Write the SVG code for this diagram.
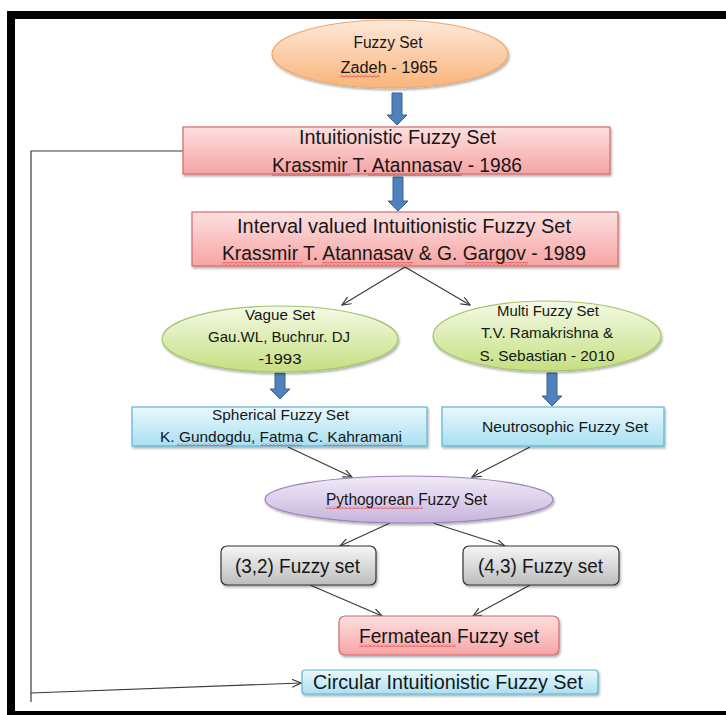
<svg xmlns="http://www.w3.org/2000/svg" width="726" height="715" viewBox="0 0 726 715">
<style>
text{font-family:"Liberation Sans",Arial,sans-serif;fill:#161616;text-anchor:middle}
.s14{font-size:15px}.s15{font-size:16px}.s18{font-size:19.5px}.s19{font-size:20.5px}
.con{fill:none;stroke:#3a3a3a;stroke-width:1.2}
.blk{fill:#4f81bd;stroke:#3a639a;stroke-width:1}
.sq{fill:url(#squig)}
</style>
<defs>
<linearGradient id="gOr" x1="0" y1="0" x2="0" y2="1"><stop offset="0" stop-color="#fde9d9"/><stop offset="1" stop-color="#f9b47a"/></linearGradient>
<linearGradient id="gPk" x1="0" y1="0" x2="0" y2="1"><stop offset="0" stop-color="#fde0e0"/><stop offset="1" stop-color="#f7a4a4"/></linearGradient>
<linearGradient id="gGr" x1="0" y1="0" x2="0" y2="1"><stop offset="0" stop-color="#f4fae6"/><stop offset="1" stop-color="#c5df80"/></linearGradient>
<linearGradient id="gBl" x1="0" y1="0" x2="0" y2="1"><stop offset="0" stop-color="#eaf8fd"/><stop offset="1" stop-color="#a9e0f2"/></linearGradient>
<linearGradient id="gPu" x1="0" y1="0" x2="0" y2="1"><stop offset="0" stop-color="#f1ebf7"/><stop offset="1" stop-color="#c7b4de"/></linearGradient>
<linearGradient id="gGy" x1="0" y1="0" x2="0" y2="1"><stop offset="0" stop-color="#f6f6f6"/><stop offset="1" stop-color="#bdbdbd"/></linearGradient>
<filter id="sh" x="-10%" y="-20%" width="120%" height="150%"><feDropShadow dx="1.2" dy="2" stdDeviation="1.3" flood-color="#000" flood-opacity="0.3"/></filter>
<pattern id="squig" width="4" height="3" patternUnits="userSpaceOnUse"><path d="M0,2.5 L2,0.5 L4,2.5" fill="none" stroke="#e02020" stroke-width="0.8"/></pattern>
<marker id="arr" markerWidth="10" markerHeight="9" refX="9" refY="4" orient="auto" markerUnits="userSpaceOnUse"><path d="M0,0 L9,4 L0,8" fill="none" stroke="#3a3a3a" stroke-width="1.2"/></marker>
</defs>
<rect width="726" height="715" fill="#fff"/>
<rect x="11" y="15" width="800" height="700" fill="none" stroke="#000" stroke-width="8"/>

<g id="connectors">
<path class="blk" d="M392,93 H402 V115 H407 L397,125 L387,115 H392 Z"/>
<path class="blk" d="M393,177 H403 V201 H408 L398,211 L388,201 H393 Z"/>
<path class="blk" d="M275,373 H285 V389 H290 L280,399 L270,389 H275 Z"/>
<path class="blk" d="M547,373 H557 V396 H562 L552,406 L542,396 H547 Z"/>
<path class="con" d="M405,267 L342,305" marker-end="url(#arr)"/>
<path class="con" d="M405,267 L470,305" marker-end="url(#arr)"/>
<path class="con" d="M288,447 L352,477" marker-end="url(#arr)"/>
<path class="con" d="M530,447 L472,477" marker-end="url(#arr)"/>
<path class="con" d="M390,523 L340,546" marker-end="url(#arr)"/>
<path class="con" d="M433,523 L505,546" marker-end="url(#arr)"/>
<path class="con" d="M310,585 L382,616" marker-end="url(#arr)"/>
<path class="con" d="M530,585 L473,616" marker-end="url(#arr)"/>
<path class="con" d="M183,151 H31 V702"/>
<path class="con" d="M31,693 L301,683" marker-end="url(#arr)"/>
</g>

<g id="fuzzy-set">
<ellipse cx="390" cy="54" rx="118" ry="34" fill="url(#gOr)" stroke="#f2a868" stroke-width="1.2" filter="url(#sh)"/>
<text class="s15" x="388" y="48" textLength="69" lengthAdjust="spacingAndGlyphs">Fuzzy Set</text>
<text class="s15" x="389" y="73" textLength="97" lengthAdjust="spacingAndGlyphs">Zadeh - 1965</text>
<rect class="sq" x="340" y="75" width="40" height="3"/>
</g>

<g id="intuitionistic">
<rect x="183" y="127" width="427" height="47" fill="url(#gPk)" stroke="#d26a6a" stroke-width="1.2" filter="url(#sh)"/>
<text class="s19" x="397.5" y="144" textLength="197" lengthAdjust="spacingAndGlyphs">Intuitionistic Fuzzy Set</text>
<text class="s19" x="397" y="172" textLength="250" lengthAdjust="spacingAndGlyphs">Krassmir T. Atannasav - 1986</text>
<rect class="sq" x="272" y="173" width="78" height="3"/>
<rect class="sq" x="368" y="173" width="94" height="3"/>
</g>

<g id="interval-valued">
<rect x="192" y="212" width="426" height="54" fill="url(#gPk)" stroke="#d26a6a" stroke-width="1.2" filter="url(#sh)"/>
<text class="s19" x="404" y="233" textLength="334" lengthAdjust="spacingAndGlyphs">Interval valued Intuitionistic Fuzzy Set</text>
<text class="s19" x="404" y="260" textLength="364" lengthAdjust="spacingAndGlyphs">Krassmir T. Atannasav &amp; G. Gargov - 1989</text>
<rect class="sq" x="222" y="262" width="80" height="3"/>
<rect class="sq" x="322" y="262" width="91" height="3"/>
<rect class="sq" x="465" y="262" width="63" height="3"/>
</g>

<g id="vague-set">
<ellipse cx="280" cy="339" rx="118" ry="33" fill="url(#gGr)" stroke="#a6c46a" stroke-width="1.2" filter="url(#sh)"/>
<text class="s14" x="280" y="320" textLength="70" lengthAdjust="spacingAndGlyphs">Vague Set</text>
<text class="s14" x="279" y="342" textLength="142" lengthAdjust="spacingAndGlyphs">Gau.WL, Buchrur. DJ</text>
<text class="s14" x="280" y="364" textLength="43" lengthAdjust="spacingAndGlyphs">-1993</text>
</g>

<g id="multi-fuzzy-set">
<ellipse cx="547" cy="336" rx="114" ry="35" fill="url(#gGr)" stroke="#a6c46a" stroke-width="1.2" filter="url(#sh)"/>
<text class="s14" x="548" y="316" textLength="102" lengthAdjust="spacingAndGlyphs">Multi Fuzzy Set</text>
<text class="s14" x="547" y="338" textLength="132" lengthAdjust="spacingAndGlyphs">T.V. Ramakrishna &amp;</text>
<text class="s14" x="547" y="361" textLength="135" lengthAdjust="spacingAndGlyphs">S. Sebastian - 2010</text>
</g>

<g id="spherical">
<rect x="132" y="407" width="295" height="39" fill="url(#gBl)" stroke="#5ab4d0" stroke-width="1.2" filter="url(#sh)"/>
<text class="s14" x="280.5" y="420" textLength="137" lengthAdjust="spacingAndGlyphs">Spherical Fuzzy Set</text>
<text class="s14" x="281" y="442" textLength="242" lengthAdjust="spacingAndGlyphs">K. Gundogdu, Fatma C. Kahramani</text>
<rect class="sq" x="177" y="443" width="52" height="3"/>
<rect class="sq" x="261" y="443" width="41" height="3"/>
<rect class="sq" x="323" y="443" width="79" height="3"/>
</g>

<g id="neutrosophic">
<rect x="442" y="407" width="222" height="39" fill="url(#gBl)" stroke="#5ab4d0" stroke-width="1.2" filter="url(#sh)"/>
<text class="s14" x="565" y="432" textLength="166" lengthAdjust="spacingAndGlyphs">Neutrosophic Fuzzy Set</text>
</g>

<g id="pythogorean">
<ellipse cx="409" cy="499.5" rx="144" ry="23.5" fill="url(#gPu)" stroke="#9a82bb" stroke-width="1.2" filter="url(#sh)"/>
<text class="s15" x="406.5" y="505" textLength="161" lengthAdjust="spacingAndGlyphs">Pythogorean Fuzzy Set</text>
<rect class="sq" x="326" y="506" width="97" height="3"/>
</g>

<g id="fuzzy-3-2">
<rect x="221" y="546" width="155" height="39" rx="6" fill="url(#gGy)" stroke="#333" stroke-width="1.2" filter="url(#sh)"/>
<text class="s19" x="297.5" y="573" textLength="125" lengthAdjust="spacingAndGlyphs">(3,2) Fuzzy  set</text>
</g>

<g id="fuzzy-4-3">
<rect x="463" y="546" width="156" height="39" rx="6" fill="url(#gGy)" stroke="#333" stroke-width="1.2" filter="url(#sh)"/>
<text class="s19" x="540.5" y="573" textLength="125" lengthAdjust="spacingAndGlyphs">(4,3) Fuzzy  set</text>
</g>

<g id="fermatean">
<rect x="339" y="616" width="220" height="39" rx="6" fill="url(#gPk)" stroke="#d26a6a" stroke-width="1.2" filter="url(#sh)"/>
<text class="s19" x="449" y="643" textLength="180" lengthAdjust="spacingAndGlyphs">Fermatean Fuzzy  set</text>
<rect class="sq" x="359" y="644" width="97" height="3"/>
</g>

<g id="circular">
<rect x="302" y="670" width="296" height="24" rx="3" fill="url(#gBl)" stroke="#5ab4d0" stroke-width="1.2" filter="url(#sh)"/>
<text class="s18" x="448" y="689" textLength="270" lengthAdjust="spacingAndGlyphs">Circular Intuitionistic Fuzzy  Set</text>
</g>
</svg>
